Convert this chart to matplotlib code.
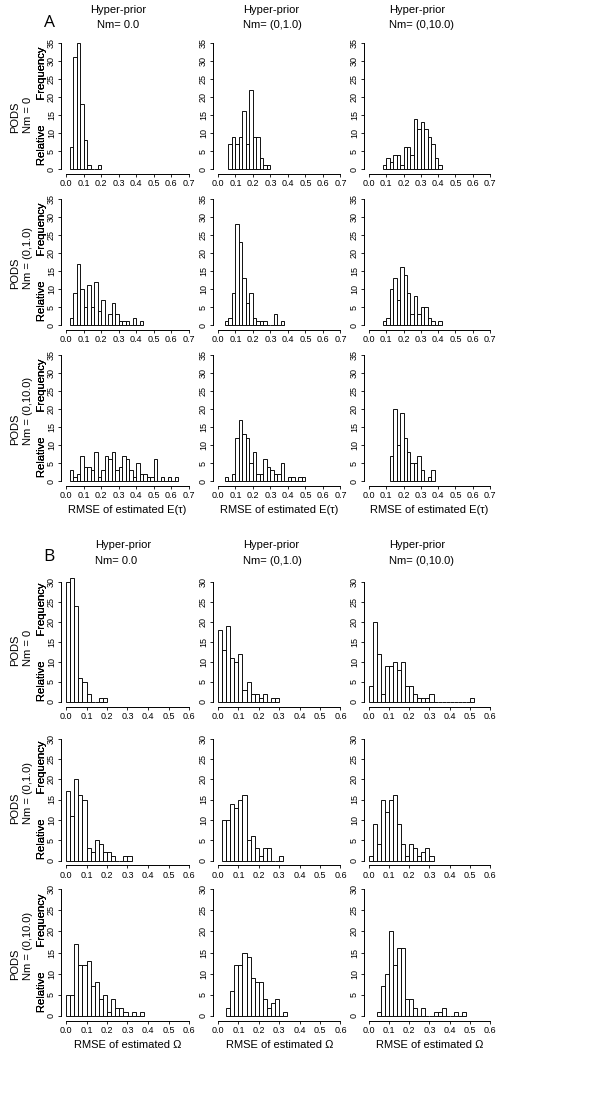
import numpy as np
import matplotlib
matplotlib.use("Agg")
import matplotlib.pyplot as plt

plt.rcParams['font.family'] = ['Liberation Sans', 'DejaVu Sans']

# ---------------- data (relative frequency, %) ----------------
bin_width = 0.02

# Panel A: RMSE of estimated E(tau); rows = PODS Nm, cols = hyper-prior Nm
tau_r1c1_start = 0.02
tau_r1c1 = [6, 31, 35, 18, 8, 1, 0, 0, 1]
tau_r1c2_start = 0.06
tau_r1c2 = [7, 9, 7, 9, 16, 7, 22, 9, 9, 3, 1, 1]
tau_r1c3_start = 0.08
tau_r1c3 = [1, 3, 2, 4, 4, 1, 6, 6, 4, 14, 11, 13, 11, 9, 7, 3, 1]

tau_r2c1_start = 0.02
tau_r2c1 = [2, 9, 17, 10, 5, 11, 5, 12, 4, 7, 0, 3, 6, 3, 1, 1, 1, 0, 2, 0, 1]
tau_r2c2_start = 0.04
tau_r2c2 = [1, 2, 9, 28, 23, 13, 6, 9, 2, 1, 1, 1, 0, 0, 3, 0, 1]
tau_r2c3_start = 0.08
tau_r2c3 = [1, 2, 10, 13, 7, 16, 14, 9, 3, 8, 3, 5, 5, 2, 1, 0, 1]

tau_r3c1_start = 0.02
tau_r3c1 = [3, 1, 2, 7, 4, 4, 3, 8, 1, 3, 7, 6, 8, 3, 4, 7, 6, 3, 1, 5, 2, 2,
            1, 1, 6, 0, 1, 0, 1, 0, 1]
tau_r3c2_start = 0.04
tau_r3c2 = [1, 0, 2, 12, 17, 13, 12, 5, 8, 2, 2, 6, 4, 3, 2, 2, 5, 0, 1, 1, 0, 1, 1]
tau_r3c3_start = 0.12
tau_r3c3 = [7, 20, 10, 19, 12, 8, 5, 5, 7, 3, 0, 1, 3]

# Panel B: RMSE of estimated Omega
om_r1c1_start = 0.0
om_r1c1 = [30, 31, 24, 6, 5, 2, 0, 0, 1, 1]
om_r1c2_start = 0.0
om_r1c2 = [18, 13, 19, 11, 10, 12, 3, 5, 2, 2, 1, 2, 0, 1, 1]
om_r1c3_start = 0.0
om_r1c3 = [4, 20, 12, 2, 9, 9, 10, 8, 10, 4, 4, 2, 1, 1, 1, 2,
           0, 0, 0, 0, 0, 0, 0, 0, 0, 1]

om_r2c1_start = 0.0
om_r2c1 = [17, 11, 20, 16, 15, 3, 2, 5, 4, 2, 2, 1, 0, 0, 1, 1]
om_r2c2_start = 0.02
om_r2c2 = [10, 10, 14, 13, 15, 16, 5, 6, 3, 1, 3, 3, 0, 0, 1]
om_r2c3_start = 0.0
om_r2c3 = [1, 9, 4, 15, 12, 15, 16, 9, 4, 1, 4, 3, 1, 2, 3, 1]

om_r3c1_start = 0.0
om_r3c1 = [5, 5, 17, 12, 12, 13, 7, 8, 4, 5, 1, 4, 2, 2, 1, 0, 1, 0, 1]
om_r3c2_start = 0.04
om_r3c2 = [2, 6, 12, 12, 15, 14, 9, 8, 8, 4, 2, 3, 4, 0, 1]
om_r3c3_start = 0.04
om_r3c3 = [1, 7, 10, 20, 12, 16, 16, 4, 4, 2, 0, 2, 0, 0, 1, 1, 2, 0, 0, 1, 0, 1]

col_titles = ["Nm= 0.0", "Nm= (0,1.0)", "Nm= (0,10.0)"]
row_titles = ["Nm = 0", "Nm = (0,1.0)", "Nm = (0,10.0)"]
xlabel_A = "RMSE of estimated E(\u03c4)"
xlabel_B = "RMSE of estimated \u03a9"

tau_panels = [[(tau_r1c1_start, tau_r1c1), (tau_r1c2_start, tau_r1c2), (tau_r1c3_start, tau_r1c3)],
              [(tau_r2c1_start, tau_r2c1), (tau_r2c2_start, tau_r2c2), (tau_r2c3_start, tau_r2c3)],
              [(tau_r3c1_start, tau_r3c1), (tau_r3c2_start, tau_r3c2), (tau_r3c3_start, tau_r3c3)]]
om_panels = [[(om_r1c1_start, om_r1c1), (om_r1c2_start, om_r1c2), (om_r1c3_start, om_r1c3)],
             [(om_r2c1_start, om_r2c1), (om_r2c2_start, om_r2c2), (om_r2c3_start, om_r2c3)],
             [(om_r3c1_start, om_r3c1), (om_r3c2_start, om_r3c2), (om_r3c3_start, om_r3c3)]]

# ---------------- layout (pixels) ----------------
W, H = 600, 1097
fig = plt.figure(figsize=(W / 100, H / 100), dpi=100)

col_x0 = [66, 218, 369]        # pixel of x = 0
col_x1 = [189, 340.5, 490]     # pixel of x = xmax
rowsA_y0 = [169, 325, 481]     # pixel of y = 0
rowsA_y1 = [43, 199, 355]      # pixel of y = ymax
rowsB_y0 = [702, 860.5, 1016]
rowsB_y1 = [582, 738.5, 889]

FS = 8


def px_rect(x0p, x1p, xmax, y0p, y1p, ymax):
    ppx = (x1p - x0p) / xmax
    ppy = (y0p - y1p) / ymax
    left = x0p - 0.04 * xmax * ppx
    right = x1p + 0.04 * xmax * ppx
    bottom = y0p + 0.04 * ymax * ppy
    top = y1p - 0.04 * ymax * ppy
    return [left / W, 1 - bottom / H, (right - left) / W, (bottom - top) / H]


def fy(p):
    return 1 - p / H


def draw_panel(ax, start, heights, xmax, ymax):
    edges = start + bin_width * np.arange(len(heights))
    ax.bar(edges, heights, width=bin_width, align='edge', color='white',
           edgecolor='black', linewidth=0.65)
    ax.set_xlim(-0.04 * xmax, 1.04 * xmax)
    ax.set_ylim(-0.04 * ymax, 1.04 * ymax)
    for s in ['top', 'right']:
        ax.spines[s].set_visible(False)
    ax.spines['left'].set_bounds(0, ymax)
    ax.spines['bottom'].set_bounds(0, xmax)
    for s in ['left', 'bottom']:
        ax.spines[s].set_linewidth(0.7)
    xt = np.round(np.arange(0, xmax + 1e-9, 0.1), 1)
    ax.set_xticks(xt)
    ax.set_xticklabels([f"{t:.1f}" for t in xt])
    yt = np.arange(0, ymax + 1, 5)
    ax.set_yticks(yt)
    ax.set_yticklabels([str(int(t)) for t in yt])
    ax.tick_params(length=2.5, width=0.6, labelsize=6.5, pad=1.2)
    plt.setp(ax.get_yticklabels(), rotation=90, va='center')
    ax.patch.set_visible(False)


def draw_block(panels, xmax, ymax, rows_y0, rows_y1, xlabel):
    for r in range(3):
        for c in range(3):
            ax = fig.add_axes(px_rect(col_x0[c], col_x1[c], xmax,
                                      rows_y0[r], rows_y1[r], ymax))
            start, heights = panels[r][c]
            draw_panel(ax, start, heights, xmax, ymax)
            yc = (rows_y0[r] + rows_y1[r]) / 2
            fig.text(42 / W, fy(yc), "Relative        Frequency", rotation=90,
                     ha='center', va='center', fontsize=FS)
            if r == 2:
                xc = (col_x0[c] + col_x1[c]) / 2
                fig.text(xc / W, fy(rows_y0[r] + 29), xlabel, ha='center',
                         va='center', fontsize=FS)
        bottom = rows_y0[r] - 36
        fig.text(15 / W, fy(bottom), "PODS", rotation=90, ha='center',
                 va='bottom', fontsize=FS)
        fig.text(28 / W, fy(bottom), row_titles[r], rotation=90, ha='center',
                 va='bottom', fontsize=FS)


draw_block(tau_panels, 0.7, 35, rowsA_y0, rowsA_y1, xlabel_A)
draw_block(om_panels, 0.6, 30, rowsB_y0, rowsB_y1, xlabel_B)

# column titles
title_x_A = [(118, 'center'), (243, 'left'), (389, 'left')]
title_x_B = [(95, 'left'), (243, 'left'), (389, 'left')]
for c in range(3):
    x, ha = title_x_A[c]
    fig.text(x / W, fy(10), "Hyper-prior", ha=ha, va='center', fontsize=FS)
    fig.text(x / W, fy(25), col_titles[c], ha=ha, va='center', fontsize=FS)
    x, ha = title_x_B[c]
    fig.text(x / W, fy(545), "Hyper-prior", ha=ha, va='center', fontsize=FS)
    fig.text(x / W, fy(561), col_titles[c], ha=ha, va='center', fontsize=FS)

fig.text(49 / W, fy(23), "A", ha='center', va='center', fontsize=12.5,
         family=['Open Sans', 'DejaVu Sans'])
fig.text(49 / W, fy(557), "B", ha='center', va='center', fontsize=12.5,
         family=['Open Sans', 'DejaVu Sans'])

fig.savefig("out.png", dpi=100, facecolor='white')
